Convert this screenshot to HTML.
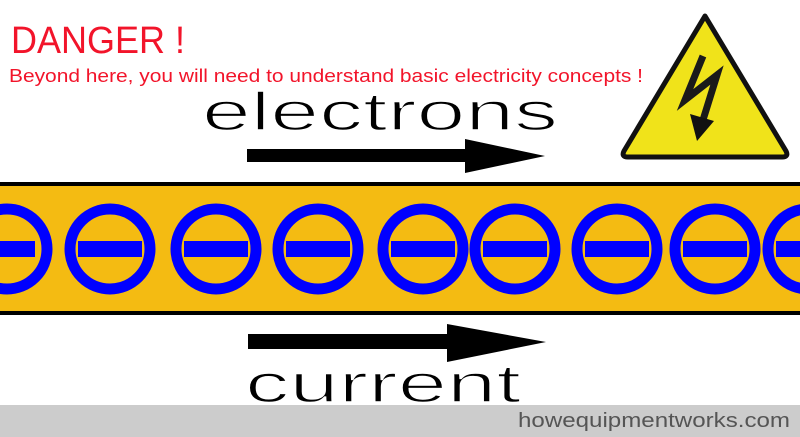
<!DOCTYPE html>
<html><head><meta charset="utf-8"><style>
html,body{margin:0;padding:0;background:#fff;}
svg{display:block}
</style></head><body>
<svg width="800" height="437" viewBox="0 0 800 437" xmlns="http://www.w3.org/2000/svg">
<rect width="800" height="437" fill="#fff"/>
<text x="11" y="53" font-family="Liberation Sans, sans-serif" font-size="38" fill="#f2142a" textLength="174" lengthAdjust="spacingAndGlyphs">DANGER !</text>
<text x="9" y="82" font-family="Liberation Sans, sans-serif" font-size="18" fill="#f2142a" textLength="634" lengthAdjust="spacingAndGlyphs">Beyond here, you will need to understand basic electricity concepts !</text>
<text x="202" y="130" font-family="Liberation Sans, sans-serif" font-size="54" fill="#000" stroke="#fff" stroke-width="1.5" textLength="356" lengthAdjust="spacingAndGlyphs">electrons</text>
<rect x="247" y="149" width="220" height="13" fill="#000"/>
<polygon points="465,139 545,156 465,173" fill="#000"/>
<rect x="0" y="182" width="800" height="133" fill="#000"/>
<rect x="0" y="186" width="800" height="125" fill="#f4bb12"/>
<g fill="none" stroke="#0000ff" stroke-width="11">
<circle cx="7" cy="249" r="40"/><circle cx="110" cy="249" r="40"/><circle cx="216" cy="249" r="40"/><circle cx="318" cy="249" r="40"/><circle cx="423" cy="249" r="40"/><circle cx="515" cy="249" r="40"/><circle cx="617" cy="249" r="40"/><circle cx="715" cy="249" r="40"/><circle cx="808" cy="249" r="40"/>
</g>
<g fill="#0000ff">
<rect x="-25" y="241" width="60" height="16"/><rect x="78" y="241" width="64" height="16"/><rect x="184" y="241" width="64" height="16"/><rect x="286" y="241" width="64" height="16"/><rect x="391" y="241" width="64" height="16"/><rect x="483" y="241" width="64" height="16"/><rect x="585" y="241" width="64" height="16"/><rect x="683" y="241" width="64" height="16"/><rect x="776" y="241" width="64" height="16"/>
</g>
<rect x="248" y="334" width="220" height="15" fill="#000"/>
<polygon points="447,324 546,342 447,362" fill="#000"/>
<text x="245" y="402" font-family="Liberation Sans, sans-serif" font-size="54" fill="#000" stroke="#fff" stroke-width="1.5" textLength="276" lengthAdjust="spacingAndGlyphs">current</text>
<rect x="0" y="405" width="800" height="32" fill="#cccccc"/>
<text x="518" y="427" font-family="Liberation Sans, sans-serif" font-size="20" fill="#555" textLength="272" lengthAdjust="spacingAndGlyphs">howequipmentworks.com</text>
<path d="M705,16 L624,151 Q621,157 628,157 L782,157 Q789,157 786,151 Z" fill="#f0e31a" stroke="#111" stroke-width="5" stroke-linejoin="round"/>
<polyline points="703,56 685,100 717,75 703,120" fill="none" stroke="#1a1a1a" stroke-width="7" stroke-linejoin="miter"/>
<polygon points="690,114 714,121 697,141" fill="#111"/>
</svg>
</body></html>
